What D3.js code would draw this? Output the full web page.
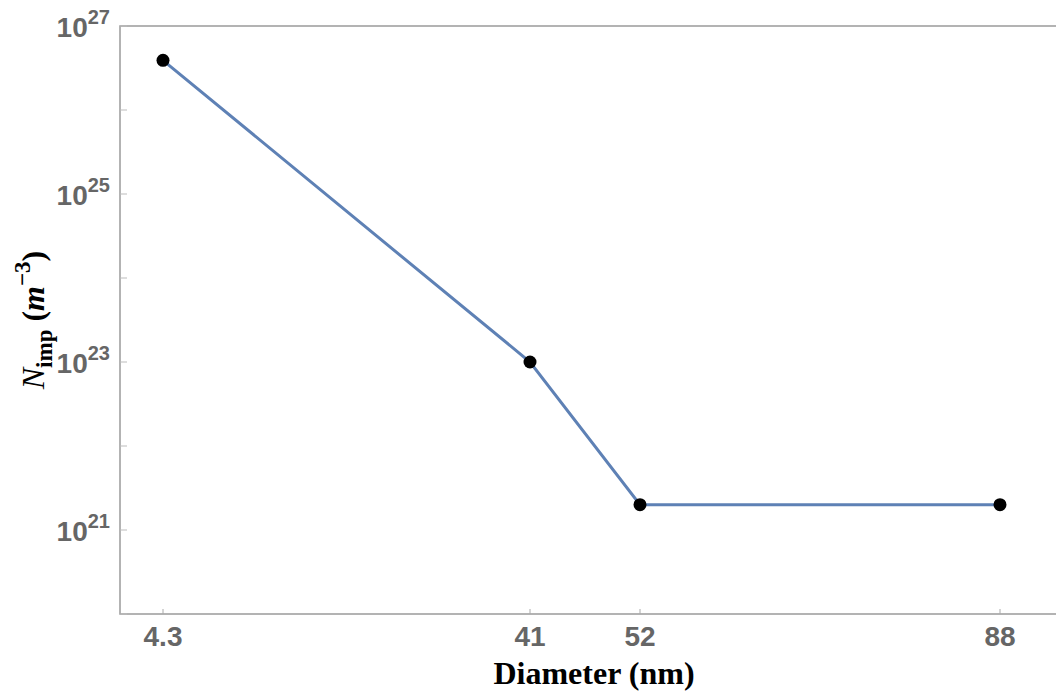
<!DOCTYPE html>
<html lang="en">
<head>
<meta charset="UTF-8">
<title>N_imp vs Diameter</title>
<script src="https://d3js.org/d3.v7.min.js"></script>
<style>
    body { margin: 0; background: #fff; }
    svg { display: block; }
    .tick-label { font-family: "Liberation Sans", Arial, sans-serif; font-weight: bold; fill: #666; }
    .axis-title { font-family: "Liberation Serif", "Times New Roman", serif; font-weight: bold; fill: #000; }
</style>
</head>
<body>
<script>
// data
const diameters = [4.3, 41, 52, 88]
const nImp = [3.9e26, 1e23, 2e21, 2e21]
const xTicks = [4.3, 41, 52, 88]
const yMajorExp = [21, 23, 25, 27]
const yMinorExp = [20, 22, 24, 26]

const width = 1056, height = 697
const margin = {top: 26, left: 120, bottom: 83, right: 0}

const svg = d3.select("body").append("svg")
    .attr("width", width).attr("height", height)

const xScale = d3.scaleLinear()
    .domain([0, 93.6])
    .range([margin.left, width - margin.right])

const yScale = d3.scaleLog()
    .domain([1e20, 1e27])
    .range([height - margin.bottom, margin.top])

// frame
svg.append("rect")
    .attr("x", margin.left).attr("y", margin.top)
    .attr("width", width - margin.left - margin.right + 2)
    .attr("height", height - margin.top - margin.bottom)
    .attr("fill", "none").attr("stroke", "#9a9a9a").attr("stroke-width", 1.5)

// x ticks
const yBottom = height - margin.bottom
svg.selectAll(".xtick").data(xTicks).join("line")
    .attr("x1", d => xScale(d)).attr("x2", d => xScale(d))
    .attr("y1", yBottom).attr("y2", yBottom - 5)
    .attr("stroke", "#aaa").attr("stroke-width", 1)

svg.selectAll(".xlab").data(xTicks).join("text")
    .attr("class", "tick-label")
    .attr("x", d => xScale(d)).attr("y", yBottom + 32)
    .attr("text-anchor", "middle")
    .style("font-size", "28px")
    .text(d => d)

// y ticks
svg.selectAll(".ytick").data(yMajorExp.concat(yMinorExp)).join("line")
    .attr("x1", margin.left).attr("x2", margin.left + 7)
    .attr("y1", d => yScale(Math.pow(10, d))).attr("y2", d => yScale(Math.pow(10, d)))
    .attr("stroke", "#bbb").attr("stroke-width", 1)

const ylab = svg.selectAll(".ylab").data(yMajorExp).join("text")
    .attr("class", "tick-label")
    .attr("x", 110).attr("y", d => yScale(Math.pow(10, d)) + 11)
    .attr("text-anchor", "end")
    .style("font-size", "28px")
ylab.append("tspan").text("10")
ylab.append("tspan").attr("dy", -13).style("font-size", "20px").text(d => d)

// line + points
const pts = diameters.map((d, i) => [d, nImp[i]])
const line = d3.line().x(d => xScale(d[0])).y(d => yScale(d[1]))

svg.append("path")
    .attr("d", line(pts))
    .attr("fill", "none")
    .attr("stroke", "#5e81b5")
    .attr("stroke-width", 3)

svg.selectAll(".pt").data(pts).join("circle")
    .attr("cx", d => xScale(d[0])).attr("cy", d => yScale(d[1]))
    .attr("r", 6.5).attr("fill", "#000")

// axis titles
svg.append("text")
    .attr("class", "axis-title")
    .attr("x", 594).attr("y", 684)
    .attr("text-anchor", "middle")
    .style("font-size", "32px")
    .text("Diameter (nm)")

const yt = svg.append("text")
    .attr("class", "axis-title")
    .attr("transform", "translate(44,320) rotate(-90)")
    .attr("text-anchor", "middle")
    .style("font-size", "32px")
yt.append("tspan").style("font-style", "italic").style("font-weight", "normal").text("N")
yt.append("tspan").attr("dy", 8).style("font-size", "23px").text("imp")
yt.append("tspan").attr("dy", -8).text(" (")
yt.append("tspan").style("font-style", "italic").text("m")
yt.append("tspan").attr("dy", -14).style("font-size", "23px").text("\u22123")
yt.append("tspan").attr("dy", 14).text(")")
</script>
</body>
</html>
